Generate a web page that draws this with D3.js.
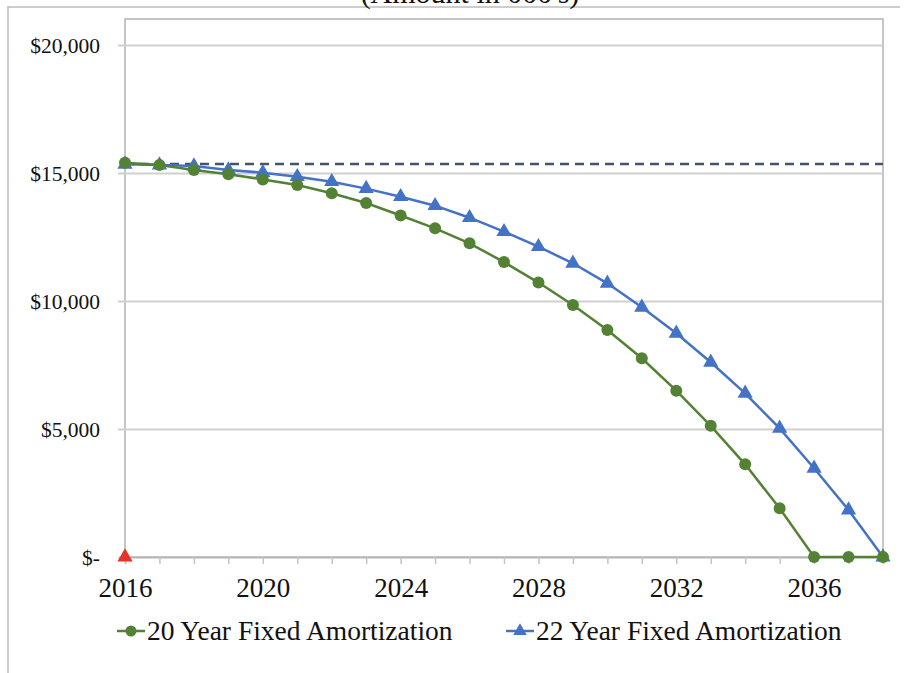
<!DOCTYPE html>
<html>
<head>
<meta charset="utf-8">
<script src="https://cdn.jsdelivr.net/npm/d3@7"></script>
<style>
  html, body { margin: 0; padding: 0; background: #ffffff; }
  svg { display: block; }
  text { font-family: "Liberation Serif", "Times New Roman", serif; fill: #111; }
</style>
</head>
<body>
<svg id="chart" width="919" height="673"></svg>
<script>
// Remaining balance by year, in thousands of dollars
const years = d3.range(2016, 2039);
const amort20 = [15400, 15310, 15120, 14950, 14750, 14530, 14207, 13830, 13340, 12840, 12254, 11520,
                 10720, 9844, 8867, 7762, 6496, 5125, 3620, 1902, 0, 0, 0];
const amort22 = [15340, 15310, 15270, 15120, 15013, 14857, 14661, 14390, 14075, 13723, 13254, 12707,
                 12121, 11473, 10691, 9754, 8738, 7605, 6394, 5026, 3465, 1836, 0];
const currentBalance = 15352;          // dashed reference level
const startPoint = [{ year: 2016, value: 0 }];
const yTicks = [0, 5000, 10000, 15000, 20000];
const xLabelYears = [2016, 2020, 2024, 2028, 2032, 2036];
const seriesNames = ["20 Year Fixed Amortization", "22 Year Fixed Amortization"];
const title = "(Amount in 000's)";

const green = "#548235";
const blue = "#4472c4";

const svg = d3.select("#chart");
const plot = { left: 125, right: 883, top: 19, bottom: 557 };

const x = d3.scaleLinear().domain([2016, 2038]).range([plot.left, plot.right]);
const y = d3.scaleLinear().domain([0, 20000]).range([plot.bottom, 45]);

// outer frame (left and top edges)
svg.append("path")
  .attr("d", "M8,673 L8,7 L900,7")
  .attr("fill", "none").attr("stroke", "#bdbdbd").attr("stroke-width", 1.5);

// title, sitting at the very top edge
svg.append("text")
  .attr("x", 470).attr("y", 3)
  .attr("text-anchor", "middle")
  .style("font-size", "30px")
  .text(title);

// plot area border
svg.append("rect")
  .attr("x", plot.left).attr("y", plot.top)
  .attr("width", plot.right - plot.left).attr("height", plot.bottom - plot.top)
  .attr("fill", "none").attr("stroke", "#b4b4b4").attr("stroke-width", 1.5);

// y axis with gridlines
const yAxis = d3.axisLeft(y)
  .tickValues(yTicks)
  .tickFormat(d => d === 0 ? "$-" : "$" + d3.format(",")(d));
const yg = svg.append("g").attr("transform", `translate(${plot.left},0)`).call(yAxis);
yg.select(".domain").remove();
yg.selectAll(".tick line")
  .attr("x1", -7).attr("x2", plot.right - plot.left)
  .attr("stroke", "#d0d0d0").attr("stroke-width", 2);
yg.selectAll(".tick text")
  .attr("x", -25).attr("dy", "0.35em")
  .style("font-size", "21.5px").attr("fill", "#111");

// x axis
const xAxis = d3.axisBottom(x)
  .tickValues(years)
  .tickSize(7)
  .tickFormat(d => xLabelYears.includes(d) ? String(d) : "");
const xg = svg.append("g").attr("transform", `translate(0,${plot.bottom})`).call(xAxis);
xg.select(".domain").attr("stroke", "#b4b4b4").attr("stroke-width", 1.5);
xg.selectAll(".tick line").attr("stroke", "#c4c4c4").attr("stroke-width", 1.5);
xg.selectAll(".tick text")
  .attr("y", 40).attr("dy", 0)
  .style("font-size", "27px").attr("fill", "#111");

// dashed current-balance line
svg.append("line")
  .attr("x1", x(2016)).attr("x2", x(2038))
  .attr("y1", y(currentBalance)).attr("y2", y(currentBalance))
  .attr("stroke", "#44546a").attr("stroke-width", 2.5)
  .attr("stroke-dasharray", "9,6");

const line = d3.line().x(d => x(d.year)).y(d => y(d.value));
const s20 = years.map((yr, i) => ({ year: yr, value: amort20[i] }));
const s22 = years.map((yr, i) => ({ year: yr, value: amort22[i] }));

const tri = d3.symbol().type(d3.symbolTriangle).size(100);

// 22-year series
svg.append("path").datum(s22)
  .attr("d", line).attr("fill", "none")
  .attr("stroke", blue).attr("stroke-width", 2.5);

// 20-year series
svg.append("path").datum(s20)
  .attr("d", line).attr("fill", "none")
  .attr("stroke", green).attr("stroke-width", 2.5);

svg.append("g").selectAll("path").data(s22).join("path")
  .attr("d", tri)
  .attr("transform", d => `translate(${x(d.year)},${y(d.value)})`)
  .attr("fill", blue);

svg.append("g").selectAll("circle").data(s20).join("circle")
  .attr("cx", d => x(d.year)).attr("cy", d => y(d.value))
  .attr("r", 6).attr("fill", green);

// starting marker on the axis
svg.append("g").selectAll("path").data(startPoint).join("path")
  .attr("d", tri)
  .attr("transform", d => `translate(${x(d.year)},${y(d.value)})`)
  .attr("fill", "#e5332a");

// legend
const legendY = 631;
const lg1 = svg.append("g").attr("transform", `translate(117,${legendY})`);
lg1.append("line").attr("x1", 0).attr("x2", 28).attr("stroke", green).attr("stroke-width", 2.5);
lg1.append("circle").attr("cx", 14).attr("r", 5.5).attr("fill", green);
lg1.append("text").attr("x", 30).attr("y", 9).style("font-size", "27.5px").text(seriesNames[0]);

const lg2 = svg.append("g").attr("transform", `translate(506,${legendY})`);
lg2.append("line").attr("x1", 0).attr("x2", 28).attr("stroke", blue).attr("stroke-width", 2.5);
lg2.append("path").attr("d", d3.symbol().type(d3.symbolTriangle).size(80)).attr("transform", "translate(14,0)").attr("fill", blue);
lg2.append("text").attr("x", 30).attr("y", 9).style("font-size", "27.5px").text(seriesNames[1]);
</script>
</body>
</html>
